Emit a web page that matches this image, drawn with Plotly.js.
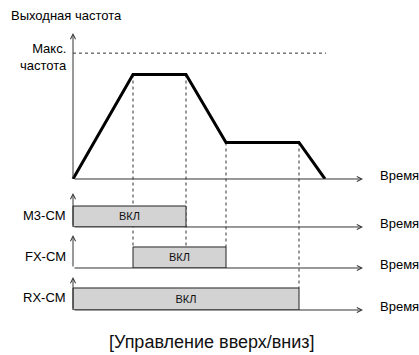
<!DOCTYPE html>
<html><head><meta charset="utf-8">
<script src="https://cdn.plot.ly/plotly-3.0.1.min.js"></script>
<style>html,body{margin:0;padding:0;background:#fff}</style>
</head><body><div id="chart" style="width:419px;height:355px"></div>
<script>
// ---- data ----
const freqTime = [0, 6.0, 11.3, 15.3, 22.6, 25.2];
const freqValue = [0, 83, 83, 29, 29, 0];
const maxFreq = 100;
const timeEnd = 29;
const signalNames = ['M3-CM', 'FX-CM', 'RX-CM'];
const signalStart = [0, 6.0, 0];
const signalEnd = [11.3, 15.3, 22.6];
const onLabel = 'ВКЛ';
const timeLabel = 'Время';
const freqAxisLabel = 'Выходная частота';
const maxLabel = 'Макс.<br>частота';
const chartTitle = '[Управление вверх/вниз]';

// ---- layout helpers ----
const FONT = 'Liberation Sans, Arial, sans-serif';
const axes = {
  y:  {domain: [0.4958, 0.9070], range: [0, 116]},
  y2: {domain: [0.3606, 0.4563], range: [0, 1.62]},
  y3: {domain: [0.2451, 0.3380], range: [0, 1.57]},
  y4: {domain: [0.1268, 0.2197], range: [0, 1.5]}
};
function toPaper(ax, v) {
  const a = axes[ax];
  return a.domain[0] + (v - a.range[0]) / (a.range[1] - a.range[0]) * (a.domain[1] - a.domain[0]);
}
const sigAxes = ['y2', 'y3', 'y4'];

const traces = [];
traces.push({
  type: 'scatter', mode: 'lines', x: freqTime, y: freqValue,
  xaxis: 'x', yaxis: 'y', line: {color: '#000', width: 3}, hoverinfo: 'skip'
});
signalNames.forEach((n, i) => {
  traces.push({
    type: 'bar', x: [(signalStart[i] + signalEnd[i]) / 2], y: [1],
    width: [signalEnd[i] - signalStart[i]], xaxis: 'x', yaxis: sigAxes[i],
    marker: {color: '#d3d3d3', line: {color: '#222', width: 1}},
    text: [onLabel], textposition: 'inside', insidetextanchor: 'middle',
    constraintext: 'none', textangle: 0,
    textfont: {family: FONT, size: 11, color: '#111'}, hoverinfo: 'skip'
  });
});

const annotations = [];
const shapes = [];
function arrow(x0, y0, x1, y1, yref) {
  annotations.push({x: x1, y: y1, ax: x0, ay: y0, xref: 'x', yref: yref,
    axref: 'x', ayref: yref, showarrow: true, arrowhead: 5, arrowsize: 1,
    arrowwidth: 1, arrowcolor: '#333', text: ''});
}
['y', ...sigAxes].forEach(ax => {
  arrow(0, 0, timeEnd, 0, ax);
  arrow(0, 0, 0, axes[ax].range[1], ax);
  annotations.push({x: timeEnd, y: 0, xref: 'x', yref: ax, text: timeLabel,
    showarrow: false, xanchor: 'left', xshift: 15, yshift: 3,
    font: {family: FONT, size: 13, color: '#000'}});
});
signalNames.forEach((n, i) => {
  annotations.push({x: 0, y: 0.5, xref: 'x', yref: sigAxes[i], text: n,
    showarrow: false, xanchor: 'right', xshift: -5, yshift: 1,
    font: {family: FONT, size: 13, color: '#000'}});
});
annotations.push({x: 0, y: maxFreq, xref: 'x', yref: 'y', text: maxLabel,
  showarrow: false, xanchor: 'right', align: 'right', yanchor: 'middle', xshift: -4, yshift: -4,
  font: {family: FONT, size: 13, color: '#000'}});
annotations.push({x: 0.022, y: 0.955, xref: 'paper', yref: 'paper', text: freqAxisLabel,
  showarrow: false, xanchor: 'left', yanchor: 'middle',
  font: {family: FONT, size: 13, color: '#000'}});
annotations.push({x: 0.505, y: 0.037, xref: 'paper', yref: 'paper', text: chartTitle,
  showarrow: false, xanchor: 'center', yanchor: 'middle',
  font: {family: FONT, size: 18, color: '#111'}});

// max frequency dotted line
shapes.push({type: 'line', xref: 'x', yref: 'paper', x0: 0, x1: freqTime[freqTime.length - 1] + 0.1,
  y0: toPaper('y', maxFreq), y1: toPaper('y', maxFreq), line: {color: '#333', width: 1, dash: 'dot'}});
// vertical guides
const guides = [
  [freqTime[1], toPaper('y', freqValue[1]), toPaper('y3', 1)],
  [freqTime[2], toPaper('y', freqValue[2]), toPaper('y3', 1)],
  [freqTime[3], toPaper('y', freqValue[3]), toPaper('y3', 1)],
  [freqTime[4], toPaper('y', freqValue[4]), toPaper('y4', 1)]
];
guides.forEach(g => shapes.push({type: 'line', xref: 'x', yref: 'paper', x0: g[0], x1: g[0],
  y0: g[1], y1: g[2], layer: 'below', line: {color: '#333', width: 1, dash: 'dot'}}));

const layout = {
  width: 419, height: 355, margin: {l: 0, r: 0, t: 0, b: 0},
  paper_bgcolor: '#fff', plot_bgcolor: 'rgba(0,0,0,0)', showlegend: false,
  xaxis: {range: [-7.3, 34.6], visible: false, fixedrange: true},
  annotations: annotations, shapes: shapes, bargap: 0
};
Object.keys(axes).forEach(k => {
  const name = k === 'y' ? 'yaxis' : 'yaxis' + k.slice(1);
  layout[name] = {domain: axes[k].domain, range: axes[k].range, visible: false, fixedrange: true, anchor: 'x'};
});
Plotly.newPlot('chart', traces, layout, {staticPlot: true, displayModeBar: false});
</script></body></html>
